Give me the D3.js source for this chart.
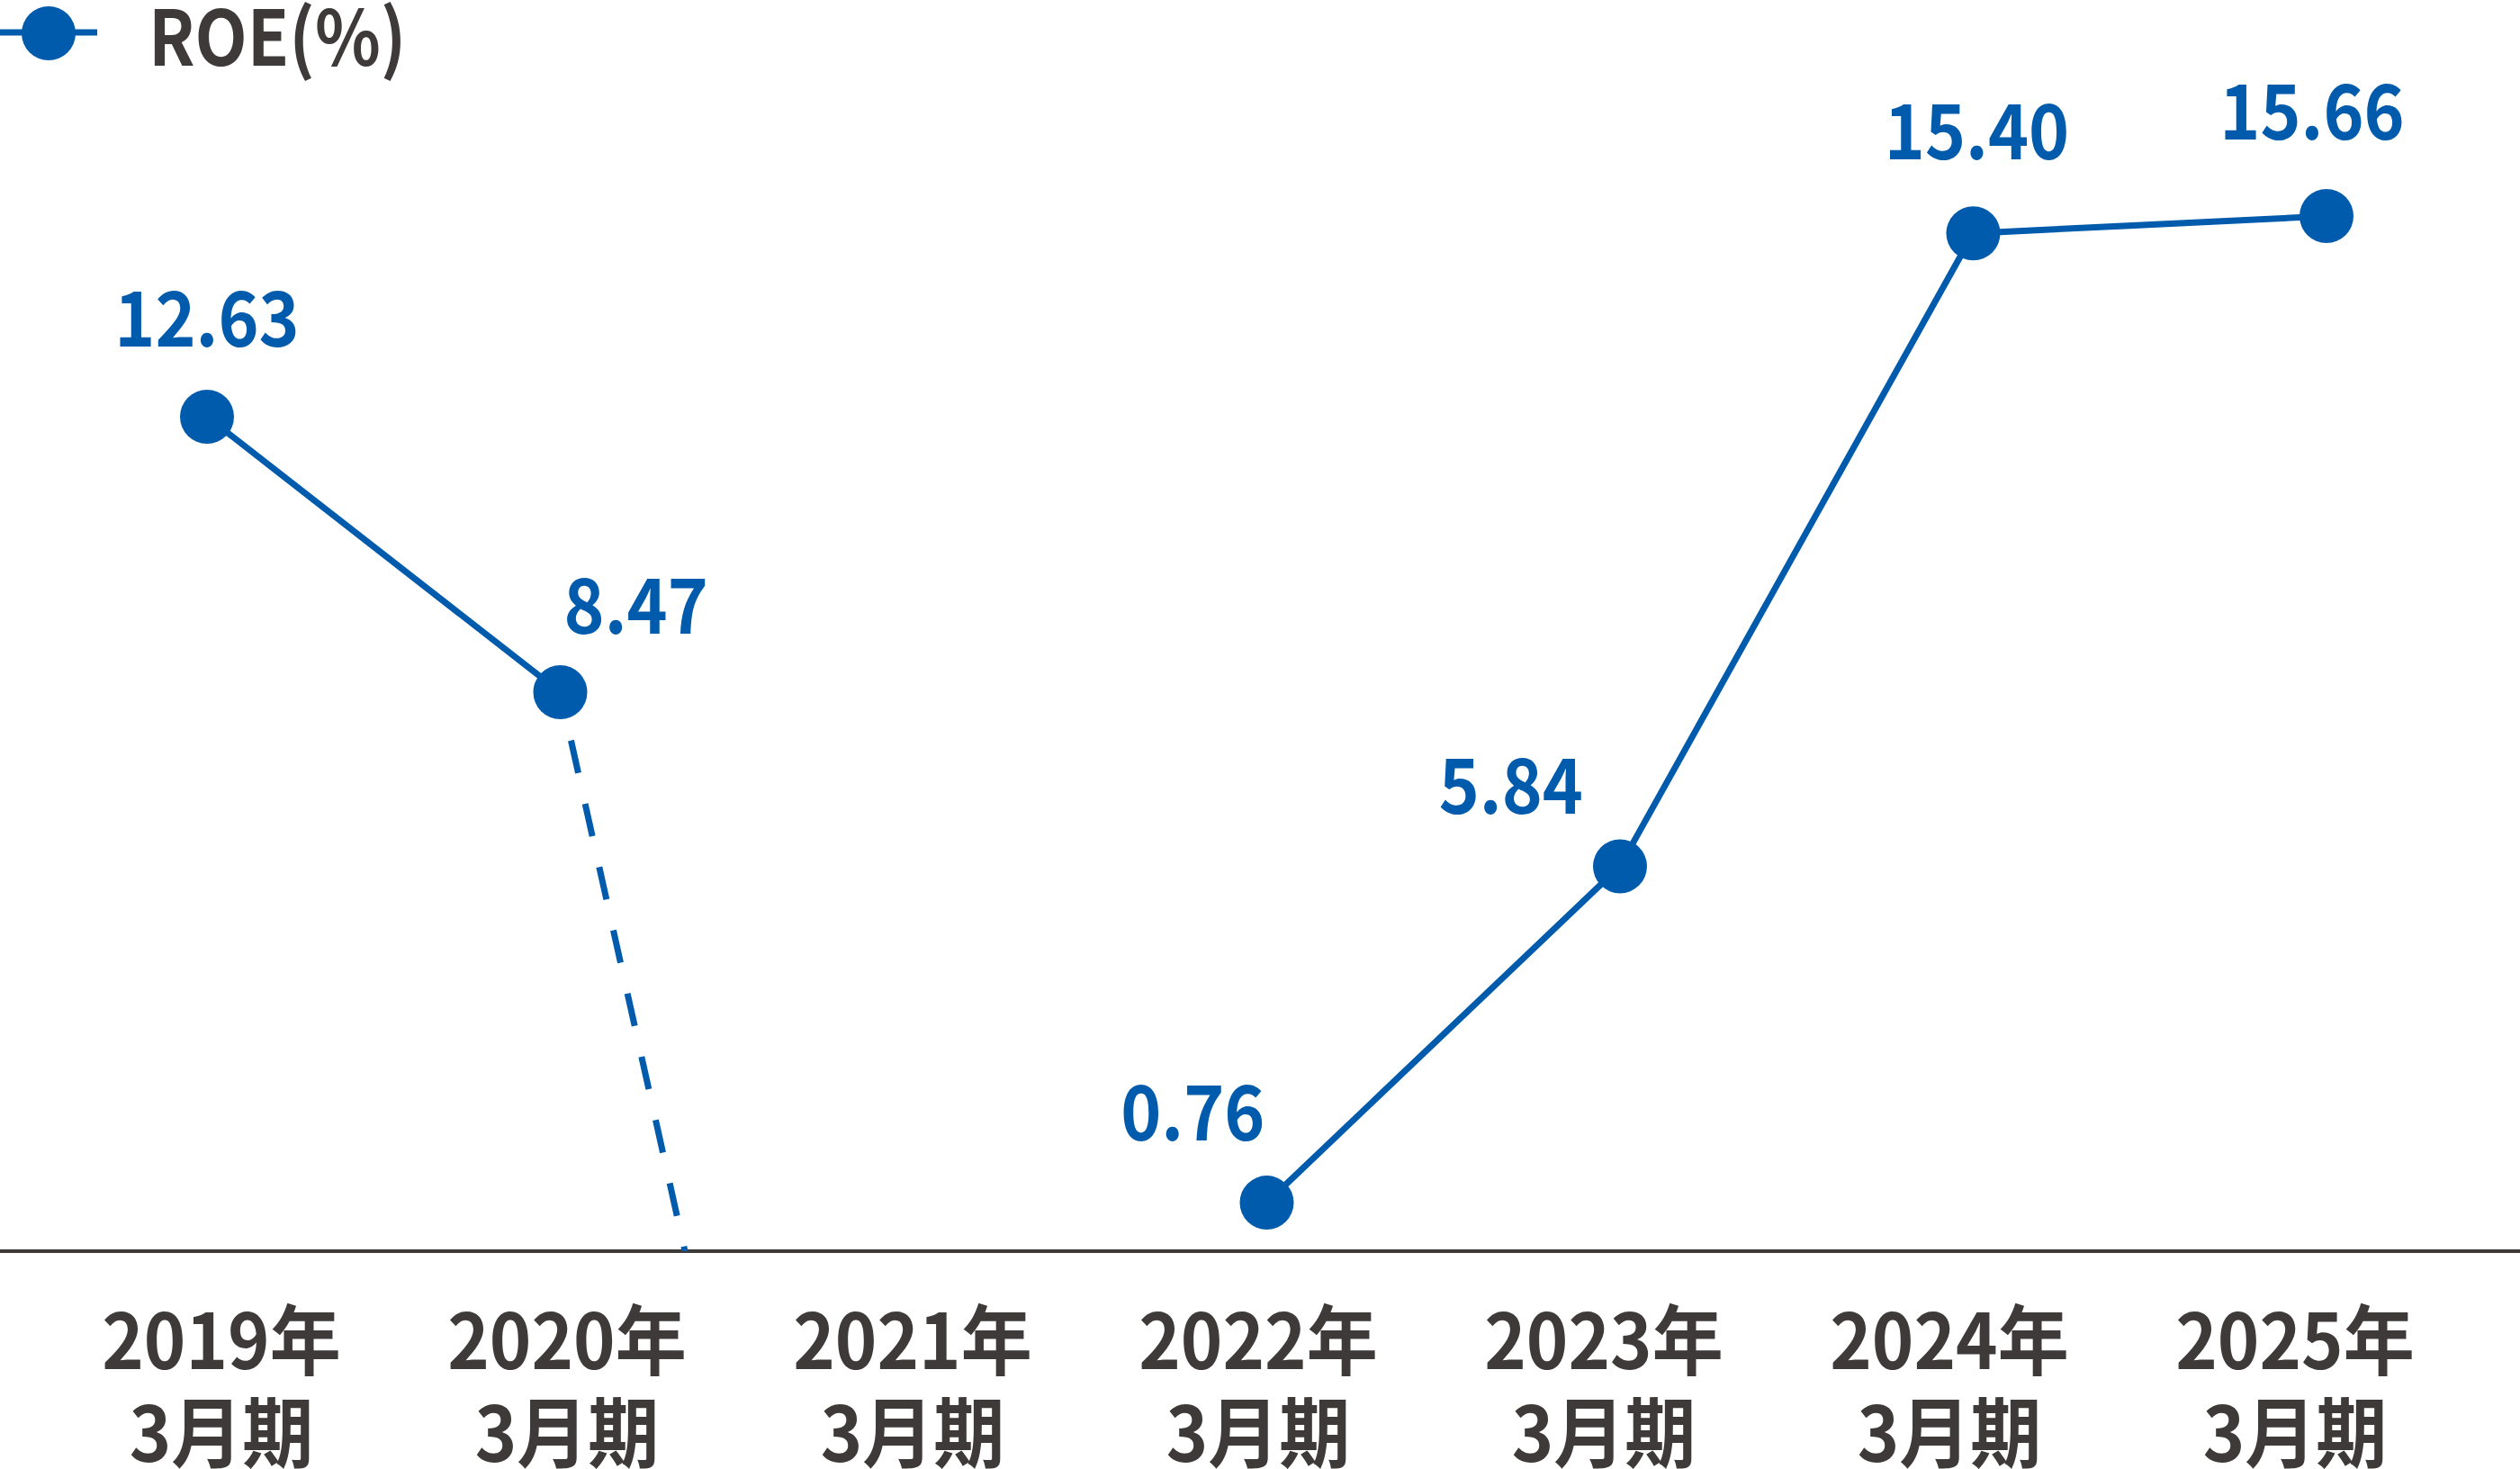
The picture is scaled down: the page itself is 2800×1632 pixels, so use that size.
<!DOCTYPE html>
<meta charset="utf-8">
<style>
body { margin: 0; background: #ffffff; }
svg { display: block; }
.label { font-family: "Noto Sans CJK JP", "Noto Sans", sans-serif; font-weight: 700; }
</style>
<svg width="2800" height="1632"></svg>
<script src="https://d3js.org/d3.v7.min.js"></script>
<script>

const years = ["2019年", "2020年", "2021年", "2022年", "2023年", "2024年", "2025年"];
const periods = ["3月期", "3月期", "3月期", "3月期", "3月期", "3月期", "3月期"];
const roe = [12.63, 8.47, -15.46, 0.76, 5.84, 15.40, 15.66];
const valueLabels = ["12.63", "8.47", "", "0.76", "5.84", "15.40", "15.66"];
const seriesName = "ROE(%)";

// where each value label sits relative to its point
const labelAnchor = ["middle", "start", "middle", "end", "end", "middle", "middle"];
const labelDx = [0, 4, 0, -2, -41, 4, -16];
const labelDy = [-78, -65, 0, -69, -58, -82, -85];

const blue = "#005bac";
const grey = "#3e3a39";
const fontSize = 85;
const radius = 30;
const lineWidth = 7;

const svg = d3.select("svg");

// points and the category labels sit on slightly different spacings
const x = d3.scalePoint()
    .domain(years)
    .range([230, 2585]);

const xLabel = d3.scalePoint()
    .domain(years)
    .range([246, 2550]);

const y = d3.scaleLinear()
    .domain([0, 16])
    .range([1392, 1392 - 16 * 73.56]);

const baseY = y(0);

// narrow text placed at (px, py); the original type is condensed
function squeezed(sel, px, py, k) {
  return sel
      .attr("x", 0)
      .attr("y", 0)
      .attr("transform", function(d, i) {
        return "translate(" + px(d, i) + "," + py(d, i) + ") scale(" + k + ",1)";
      });
}

svg.append("defs").append("clipPath")
    .attr("id", "plotclip")
  .append("rect")
    .attr("x", 0)
    .attr("y", 0)
    .attr("width", 2800)
    .attr("height", baseY - 2);

// baseline
svg.append("line")
    .attr("x1", 0)
    .attr("x2", 2800)
    .attr("y1", baseY - 2)
    .attr("y2", baseY - 2)
    .style("stroke", grey)
    .style("stroke-width", 4);

const pts = roe.map(function(v, i) { return {year: years[i], value: v, i: i}; });

// solid segments: 2019-2020 and 2022 onwards
const solidA = pts.slice(0, 2);
const solidB = pts.slice(3);
// dashed: 2020 toward the negative 2021 value
const dashed = pts.slice(1, 3);

const line = d3.line()
    .x(function(d) { return x(d.year); })
    .y(function(d) { return y(d.value); });

const g = svg.append("g").attr("clip-path", "url(#plotclip)");

g.append("path")
    .datum(dashed)
    .attr("d", line)
    .style("fill", "none")
    .style("stroke", blue)
    .style("stroke-width", lineWidth)
    .style("stroke-dasharray", "37,35")
    .style("stroke-dashoffset", 17);

[solidA, solidB].forEach(function(seg) {
  g.append("path")
      .datum(seg)
      .attr("d", line)
      .style("fill", "none")
      .style("stroke", blue)
      .style("stroke-width", lineWidth);
});

const shown = pts.filter(function(d) { return d.value >= 0; });

g.selectAll(".dot")
    .data(shown)
  .enter().append("circle")
    .attr("class", "dot")
    .attr("cx", function(d) { return x(d.year); })
    .attr("cy", function(d) { return y(d.value); })
    .attr("r", radius)
    .style("fill", blue);

svg.selectAll(".value")
    .data(shown)
  .enter().append("text")
    .attr("class", "label value")
    .call(squeezed,
          function(d) { return x(d.year) + labelDx[d.i]; },
          function(d) { return y(d.value) + labelDy[d.i]; },
          0.9)
    .attr("text-anchor", function(d) { return labelAnchor[d.i]; })
    .style("font-size", fontSize + "px")
    .style("fill", blue)
    .text(function(d) { return valueLabels[d.i]; });

// category labels, two lines each
svg.selectAll(".cat")
    .data(years)
  .enter().append("text")
    .attr("class", "label cat")
    .call(squeezed, function(d) { return xLabel(d); }, function() { return 1521; }, 0.93)
    .attr("text-anchor", "middle")
    .style("font-size", fontSize + "px")
    .style("fill", grey)
    .text(function(d) { return d; });

svg.selectAll(".period")
    .data(periods)
  .enter().append("text")
    .attr("class", "label period")
    .call(squeezed, function(d, i) { return xLabel(years[i]); }, function() { return 1624; }, 0.93)
    .attr("text-anchor", "middle")
    .style("font-size", fontSize + "px")
    .style("fill", grey)
    .text(function(d) { return d; });

// legend
const legend = svg.append("g").attr("class", "legend");

legend.append("line")
    .attr("x1", 0)
    .attr("x2", 108)
    .attr("y1", 36)
    .attr("y2", 36)
    .style("stroke", blue)
    .style("stroke-width", 7);

legend.append("circle")
    .attr("cx", 54)
    .attr("cy", 37)
    .attr("r", radius)
    .style("fill", blue);

legend.append("text")
    .datum(seriesName)
    .attr("class", "label")
    .call(squeezed, function() { return 165; }, function() { return 73; }, 0.89)
    .style("font-size", fontSize + "px")
    .style("fill", grey)
    .text(function(d) { return d; });

</script>
